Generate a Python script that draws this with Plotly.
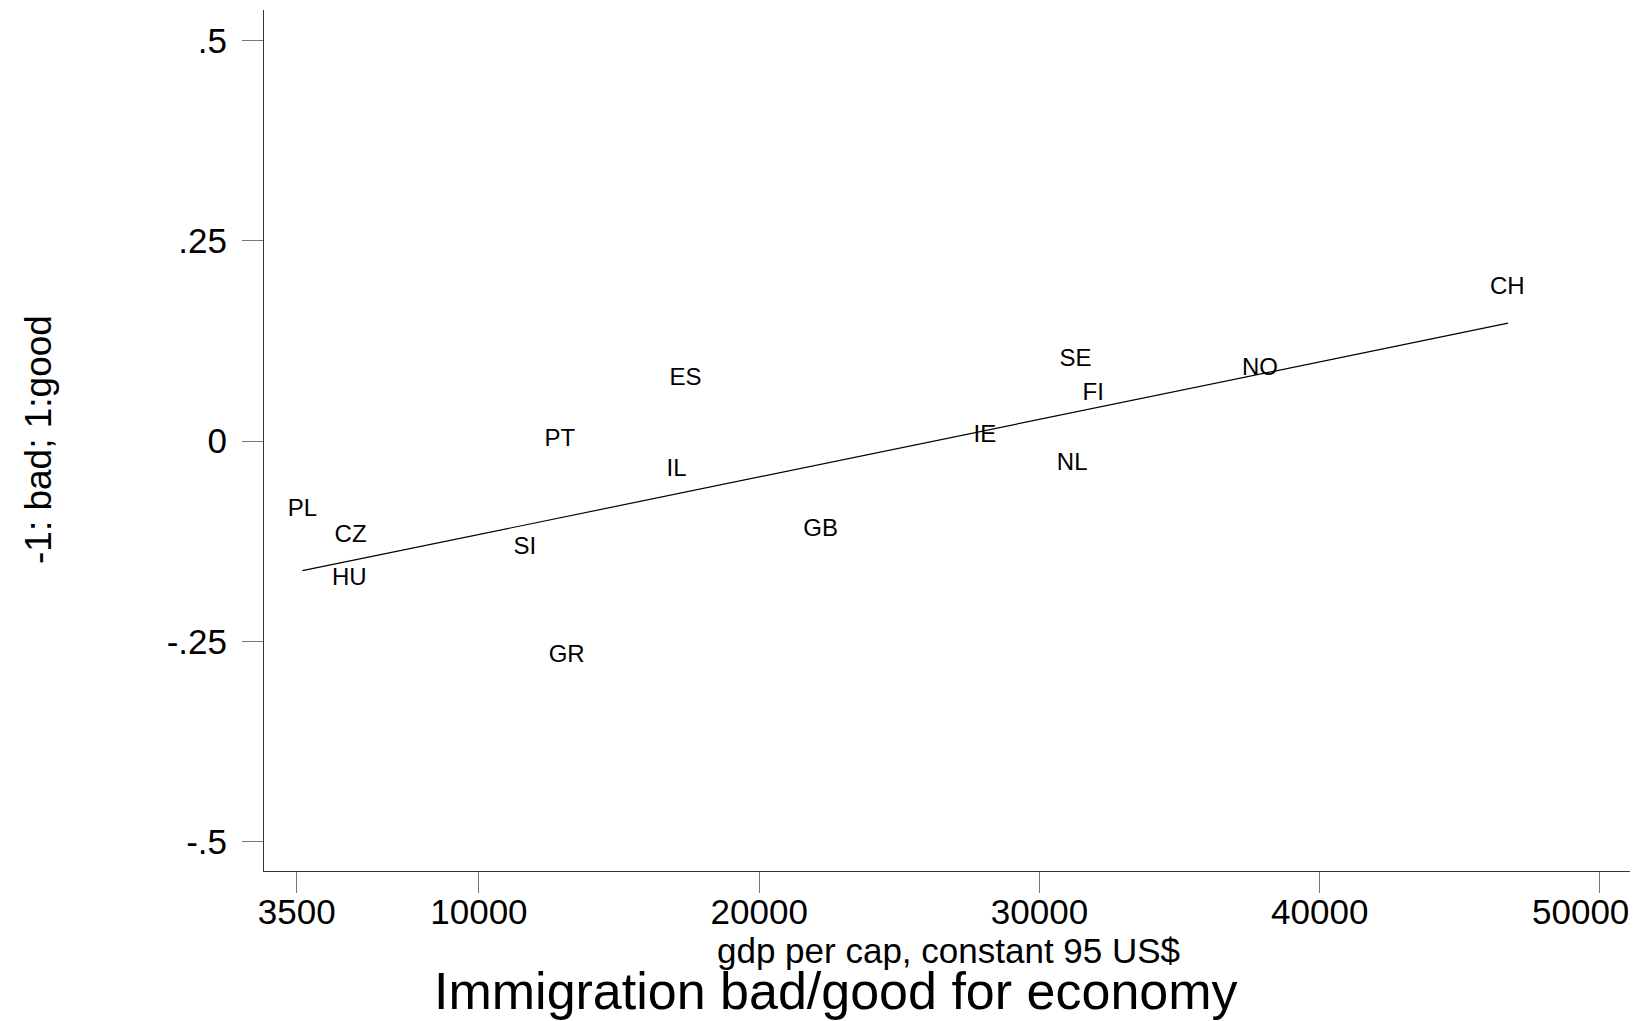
import plotly.graph_objects as go

# Data
countries = ["PL", "CZ", "HU", "SI", "GR", "PT", "IL", "ES", "GB", "IE", "SE", "FI", "NL", "NO", "CH"]
gdp_per_cap = [3703, 5422, 5373, 11641, 13130, 12890, 17053, 17374, 22191, 28054, 31290, 31918, 31168, 37865, 46695]
immig_econ = [-0.0864, -0.1184, -0.1717, -0.1334, -0.2682, 0.0010, -0.0364, 0.0779, -0.1113, 0.0060,
              0.1008, 0.0584, -0.0282, 0.0896, 0.1911]

# Fitted line end points
fit_x = [3703, 46721]
fit_y = [-0.1617, 0.1473]

x_tickvals = [3500, 10000, 20000, 30000, 40000, 50000]
x_ticktext = ["3500", "10000", "20000", "30000", "40000", "50000"]
y_tickvals = [0.5, 0.25, 0, -0.25, -0.5]
y_ticktext = [".5", ".25", "0", "-.25", "-.5"]

FONT = "Liberation Sans, Arial, Helvetica, sans-serif"

fig = go.Figure()
fig.add_trace(go.Scatter(
    x=fit_x, y=fit_y, mode="lines",
    line=dict(color="black", width=1.2),
    hoverinfo="skip", showlegend=False,
))
fig.add_trace(go.Scatter(
    x=gdp_per_cap, y=immig_econ, mode="text", text=countries,
    textposition="middle center",
    textfont=dict(family=FONT, size=24, color="black"),
    showlegend=False,
))

W, H = 1639, 1021
L, R, T, B = 264, 9, 10, 150

def px_to_paper_x(px):
    return (px - L) / (W - L - R)

def px_to_paper_y(py):
    return (H - B - py) / (H - B - T)

# The last tick label is pulled left so it stays inside the page (as in the reference)
shown_ticktext = x_ticktext[:-1] + [""]

fig.update_layout(
    width=W, height=H,
    margin=dict(l=L, r=R, t=T, b=B, pad=0, autoexpand=False),
    paper_bgcolor="white", plot_bgcolor="white",
    font=dict(family=FONT, color="black"),
    xaxis=dict(
        range=[2332, 51071], automargin=False,
        tickmode="array", tickvals=x_tickvals, ticktext=shown_ticktext,
        ticks="outside", ticklen=21, tickwidth=1, tickcolor="#777777",
        tickfont=dict(family=FONT, size=35, color="black"),
        ticklabelstandoff=-11,
        showline=True, linecolor="#333333", linewidth=1,
        showgrid=False, zeroline=False,
    ),
    yaxis=dict(
        range=[-0.5366, 0.5383], automargin=False,
        tickmode="array", tickvals=y_tickvals, ticktext=y_ticktext,
        ticks="outside", ticklen=21, tickwidth=1, tickcolor="#777777",
        tickfont=dict(family=FONT, size=35, color="black"),
        ticklabelstandoff=8,
        showline=True, linecolor="#333333", linewidth=1,
        showgrid=False, zeroline=False,
    ),
    annotations=[
        dict(text=x_ticktext[-1], x=x_tickvals[-1], xref="x",
             y=px_to_paper_y(911), yref="paper",
             xanchor="right", yanchor="middle", xshift=31, showarrow=False,
             font=dict(family=FONT, size=35, color="black")),
        dict(text="-1: bad; 1:good", textangle=-90,
             x=px_to_paper_x(38), y=px_to_paper_y(440), xref="paper", yref="paper",
             xanchor="center", yanchor="middle", showarrow=False,
             font=dict(family=FONT, size=37, color="black")),
        dict(text="gdp per cap, constant 95 US$",
             x=px_to_paper_x(948.5), y=px_to_paper_y(951), xref="paper", yref="paper",
             xanchor="center", yanchor="middle", showarrow=False,
             font=dict(family=FONT, size=35, color="black")),
        dict(text="Immigration bad/good for economy",
             x=px_to_paper_x(836), y=px_to_paper_y(991), xref="paper", yref="paper",
             xanchor="center", yanchor="middle", showarrow=False,
             font=dict(family=FONT, size=52, color="black")),
    ],
)

fig.write_html(
    "out.html",
    config={"displayModeBar": False},
    post_script="document.body.style.margin='0px';document.body.style.overflow='hidden';",
)
